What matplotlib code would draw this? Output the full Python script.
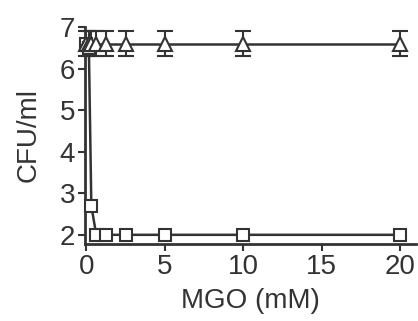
import numpy as np
import matplotlib.pyplot as plt

plt.rcParams['font.family'] = ['Liberation Sans', 'DejaVu Sans']

# MGO concentration (mM), twofold dilution series
mgo_tri = [0, 0.156, 0.3125, 0.625, 1.25, 2.5, 5, 10, 20]
cfu_tri = [6.6, 6.6, 6.6, 6.6, 6.6, 6.6, 6.6, 6.6, 6.6]
err_tri = [0.3, 0.3, 0.3, 0.3, 0.3, 0.3, 0.3, 0.3, 0.3]

mgo_sq = [0, 0.156, 0.3125, 0.625, 1.25, 2.5, 5, 10, 20]
cfu_sq = [6.6, 6.5, 2.7, 2.0, 2.0, 2.0, 2.0, 2.0, 2.0]

col = '#333333'

fig = plt.figure(figsize=(4.18, 3.21), dpi=100)
ax = fig.add_axes([0.203, 0.24, 0.792, 0.676])

ax.errorbar(mgo_tri, cfu_tri, yerr=err_tri, color=col, lw=1.8, marker='^',
            ms=10, mfc='white', mec=col, mew=1.5, capsize=6, elinewidth=1.5,
            capthick=1.5, clip_on=False, zorder=3)
ax.plot(mgo_sq, cfu_sq, color=col, lw=1.8, marker='s', ms=9, mfc='white',
        mec=col, mew=1.5, clip_on=False, zorder=3)

ax.set_xlim(-0.1, 21)
ax.set_ylim(1.78, 7.0)
ax.set_xticks([0, 5, 10, 15, 20])
ax.set_yticks([2, 3, 4, 5, 6, 7])

for s in ['top', 'right']:
    ax.spines[s].set_visible(False)
for s in ['left', 'bottom']:
    ax.spines[s].set_linewidth(2)
    ax.spines[s].set_color(col)
ax.tick_params(direction='out', length=5, width=1.5, color=col,
               labelsize=20, labelcolor=col, pad=2)

ax.set_xlabel('MGO (mM)', fontsize=20, color=col, labelpad=6)
ax.set_ylabel('CFU/ml', fontsize=20, color=col, labelpad=13)

fig.savefig('out.png', dpi=100, facecolor='white')
